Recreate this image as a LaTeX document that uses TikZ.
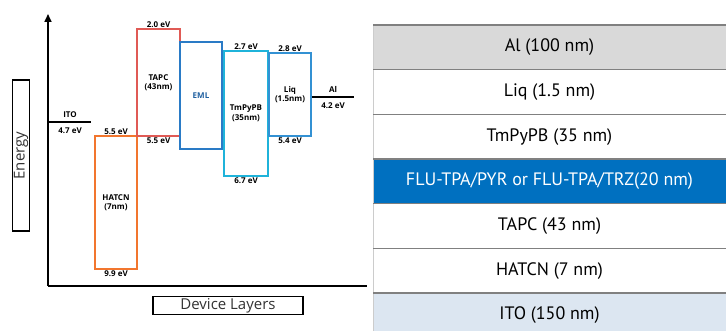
\documentclass[tikz,border=0pt]{standalone}
\usepackage{fontspec}
\setmainfont{Open Sans}
\newfontfamily\tabfont{PT Sans}
\usetikzlibrary{positioning,arrows.meta}

\definecolor{hatcnorange}{HTML}{F2762E}
\definecolor{tapcred}{HTML}{E05A55}
\definecolor{emlblue}{HTML}{2A7BC6}
\definecolor{tmpcyan}{HTML}{1FB3DA}
\definecolor{liqblue}{HTML}{3391D3}
\definecolor{emltext}{HTML}{1F5FA0}
\definecolor{algray}{HTML}{D9D9D9}
\definecolor{flublue}{HTML}{0070C0}
\definecolor{itoblue}{HTML}{DCE6F1}

\begin{document}
\begin{tikzpicture}[
  x=1pt,y=-1pt,
  font=\fontsize{8}{9.5}\selectfont\bfseries,
  lvl/.style={draw,line width=2pt,inner sep=0pt,outer sep=0pt,anchor=north west,align=center},
  wf/.style={line width=2.2pt},
  ev/.style={inner sep=1pt},
  axis/.style={line width=1.6pt},
  framed/.style={draw,line width=1.6pt,inner sep=0pt,font=\fontsize{15}{18}\selectfont\mdseries,text=black!80},
  layer/.style={minimum width=353pt,minimum height=44.7pt,inner sep=0pt,outer sep=0pt,
    font=\tabfont\fontsize{18}{21}\selectfont},
  sepline/.style={draw=black!50,line width=1.3pt},
]
\useasboundingbox (0,0) rectangle (726,331);

% energy level diagram
\coordinate (o) at (48,286);
\coordinate (ytop) at (48,14);
\coordinate (xend) at (367,286);
\draw[axis,-{Triangle[length=8pt,width=7pt]}] (o) -- (ytop);
\draw[axis] (o) -- (xend);

\node[framed,rotate=90,minimum width=151pt,minimum height=17pt] (energy) at (21,155.5) {Energy};
\node[framed,minimum width=150pt,minimum height=18pt] (devlay) at (228,305.5) {Device Layers};

\node[lvl,draw=hatcnorange,minimum width=42pt,minimum height=133pt] (hatcn) at (95,136) {HATCN\\(7nm)};
\node[lvl,draw=tapcred,minimum width=43pt,minimum height=107pt] (tapc) at (137,29) {TAPC\\(43nm)};
\node[lvl,draw=emlblue,text=emltext,minimum width=42pt,minimum height=107pt] (eml) at (180,42) {EML};
\node[lvl,draw=tmpcyan,minimum width=44pt,minimum height=125pt] (tmpypb) at (224,51) {TmPyPB\\(35nm)};
\node[lvl,draw=liqblue,minimum width=42pt,minimum height=83pt] (liq) at (269,53) {Liq\\(1.5nm)};

\node[inner sep=0pt,minimum width=42pt] (ito) at (70,122) {};
\draw[wf] (ito.west) -- (ito.east);
\node[inner sep=0pt,minimum width=42pt] (al) at (333,97) {};
\draw[wf] (al.west) -- (al.east);

\node[ev,above=3pt of ito] {ITO};
\node[ev,below=4pt of ito] {4.7 eV};
\node[ev,above=3pt of al] {Al};
\node[ev,below=4pt of al] {4.2 eV};
\node[ev,above=0pt of hatcn] {5.5 eV};
\node[ev,below=1pt of hatcn] {9.9 eV};
\node[ev,above=0pt of tapc] {2.0 eV};
\node[ev,below=1pt of tapc] {5.5 eV};
\node[ev,above=0pt of tmpypb] {2.7 eV};
\node[ev,below=1pt of tmpypb] {6.7 eV};
\node[ev,above=0pt of liq] {2.8 eV};
\node[ev,below=1pt of liq] {5.4 eV};

% device stack
\node[layer,fill=algray] (lal) at (549.5,47.25) {Al (100 nm)};
\node[layer,below=0pt of lal] (lliq) {Liq (1.5 nm)};
\node[layer,below=0pt of lliq] (ltmpypb) {TmPyPB (35 nm)};
\node[layer,fill=flublue,text=white,below=0pt of ltmpypb] (lflu) {FLU-TPA/PYR or FLU-TPA/TRZ(20 nm)};
\node[layer,below=0pt of lflu] (ltapc) {TAPC (43 nm)};
\node[layer,below=0pt of ltapc] (lhatcn) {HATCN (7 nm)};
\node[layer,fill=itoblue,below=0pt of lhatcn] (lito) {ITO (150 nm)};

\draw[draw=black!20,line width=1pt] (lal.north west) -- (lito.south west);
\draw[sepline] (lal.north west) -- (lal.north east);
\draw[sepline] (lliq.north west) -- (lliq.north east);
\draw[sepline] (ltmpypb.north west) -- (ltmpypb.north east);
\draw[sepline] (lflu.north west) -- (lflu.north east);
\draw[sepline] (ltapc.north west) -- (ltapc.north east);
\draw[sepline] (lhatcn.north west) -- (lhatcn.north east);
\draw[sepline] (lito.north west) -- (lito.north east);
\end{tikzpicture}
\end{document}
